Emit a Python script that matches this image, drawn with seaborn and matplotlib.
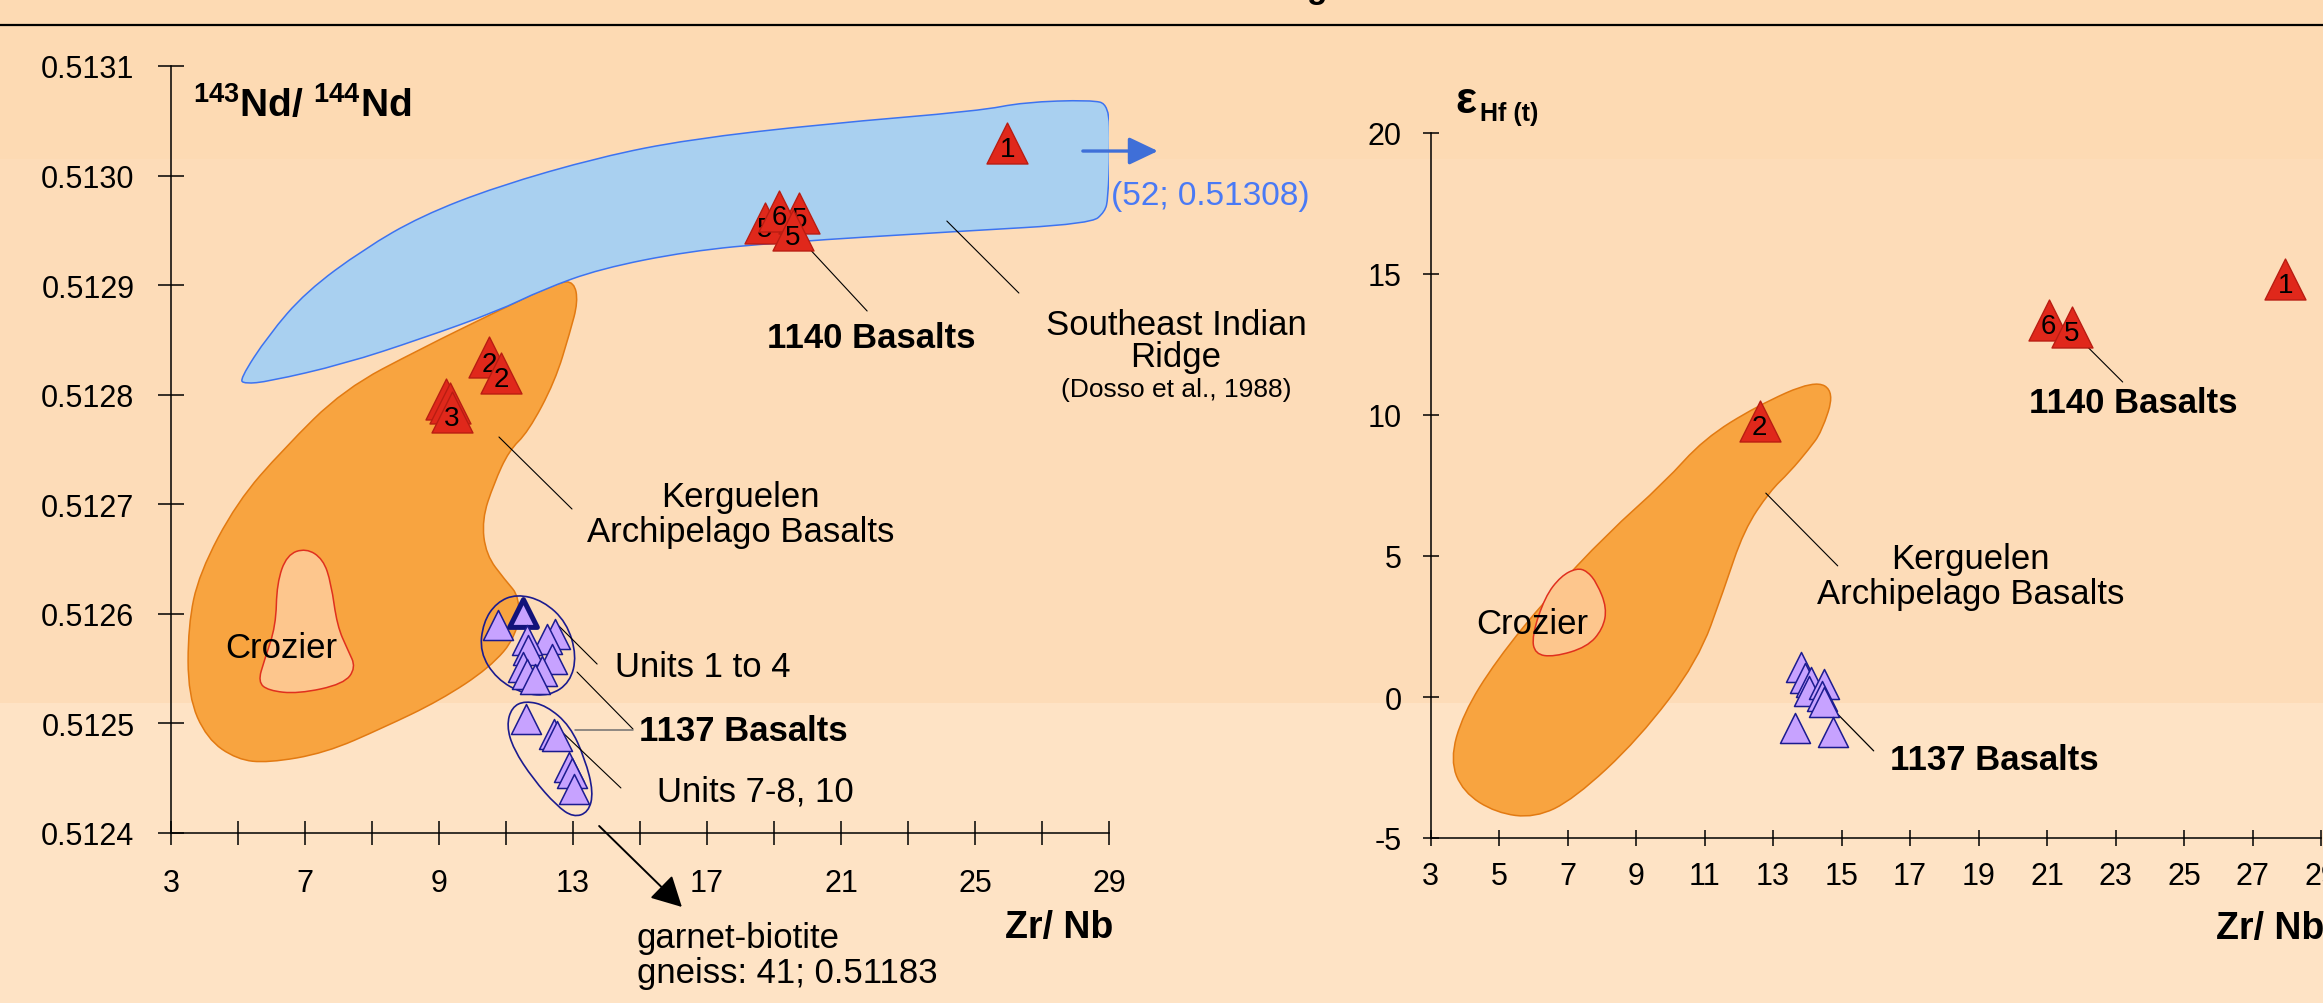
import numpy as np
import matplotlib
matplotlib.use("Agg")
import matplotlib.pyplot as plt
import seaborn as sns
from matplotlib.path import Path
from matplotlib.patches import PathPatch, Rectangle
from matplotlib.lines import Line2D

sns.set_style("white")
plt.rcParams['font.family'] = ['Liberation Sans', 'DejaVu Sans']
plt.rcParams['mathtext.fontset'] = 'custom'
plt.rcParams['mathtext.rm'] = 'Liberation Sans'
plt.rcParams['mathtext.bf'] = 'Liberation Sans:bold'
plt.rcParams['axes.unicode_minus'] = False
plt.rcParams['text.color'] = 'black'
plt.rcParams['xtick.color'] = 'black'
plt.rcParams['ytick.color'] = 'black'

# ---------------- left panel: 143Nd/144Nd vs Zr/Nb ----------------
nd_1140_zr = [27.97, 20.73, 21.75, 21.15, 21.57, 12.49, 12.85, 11.21, 11.33, 11.39]
nd_1140_nd = [0.513030, 0.512957, 0.512966, 0.512968, 0.512950,
              0.512834, 0.512820, 0.512796, 0.512792, 0.512784]
nd_1140_lab = ['1', '5', '5', '6', '5', '2', '2', '', '', '3']

# 1137 basalts, units 1 to 4 (second one is the highlighted sample)
nd_u14_zr = [12.75, 13.52, 14.46, 14.23, 13.62, 13.66, 14.36, 13.52, 13.62, 14.07, 13.87]
nd_u14_nd = [0.5125896, 0.5126006, 0.5125813, 0.5125771, 0.5125763, 0.5125672,
             0.5125588, 0.5125512, 0.5125451, 0.5125474, 0.5125406]
# 1137 basalts, units 7-8, 10
nd_u78_zr = [13.60, 14.44, 14.51, 14.87, 14.97, 15.02]
nd_u78_nd = [0.5125040, 0.5124904, 0.5124881, 0.5124600, 0.5124548, 0.5124399]

seir_zr = [5.05, 5.90, 7.03, 8.76, 10.46, 12.73, 15.81, 18.46, 22.46, 27.12, 28.46, 30.46,
           31.0, 31.03, 30.97, 30.88, 30.46, 26.46, 21.15, 18.46, 15.81, 14.10, 12.73,
           10.46, 8.16, 5.90, 5.20]
seir_nd = [0.512814, 0.512854, 0.512894, 0.512933, 0.512963, 0.512990, 0.513017, 0.513033,
           0.513047, 0.513059, 0.513067, 0.513069, 0.513065, 0.513024, 0.512979, 0.512967,
           0.512956, 0.512949, 0.512939, 0.512931, 0.512915, 0.512896, 0.512876, 0.512851,
           0.512828, 0.512812, 0.512810]

kerg_nd_zr = [15.03, 15.15, 14.91, 14.46, 13.66, 13.09, 12.64, 12.28, 12.40, 12.97, 13.42,
              13.33, 12.52, 11.03, 9.33, 7.60, 5.90, 4.97, 4.07, 3.51, 3.51, 3.84, 4.97,
              6.34, 8.16, 10.46, 12.73, 14.58]
kerg_nd_nd = [0.512903, 0.512885, 0.512857, 0.512812, 0.512766, 0.512749, 0.512719,
              0.512686, 0.512654, 0.512631, 0.512615, 0.512580, 0.512551, 0.512521,
              0.512496, 0.512473, 0.512464, 0.512467, 0.512486, 0.512525, 0.512589,
              0.512637, 0.512702, 0.512750, 0.512805, 0.512842, 0.512876, 0.512903]

croz_nd_zr = [7.03, 6.46, 6.16, 6.13, 5.78, 5.60, 5.90, 6.79, 8.16, 8.52, 8.28, 7.96, 7.78, 7.54]
croz_nd_nd = [0.512660, 0.512654, 0.512628, 0.512589, 0.512557, 0.512538, 0.512530,
              0.512527, 0.512536, 0.512551, 0.512567, 0.512589, 0.512628, 0.512650]

ring14_zr = [13.32, 14.11, 14.81, 15.11, 14.91, 14.31, 13.52, 12.72, 12.22, 12.32, 12.72]
ring14_nd = [0.5126181, 0.5126120, 0.5125923, 0.5125618, 0.5125375, 0.5125253,
             0.5125269, 0.5125405, 0.5125649, 0.5125923, 0.5126105]
ring78_zr = [13.57, 14.21, 14.91, 15.36, 15.61, 15.46, 15.01, 14.51, 13.81, 13.22, 13.02, 13.17]
ring78_nd = [0.5125207, 0.5125162, 0.5124979, 0.5124675, 0.5124371, 0.5124189,
             0.5124143, 0.5124249, 0.5124493, 0.5124767, 0.5124979, 0.5125147]

left_xtick_major = [3, 7, 11, 15, 19, 23, 27, 31]
left_xtick_labels = ['3', '7', '9', '13', '17', '21', '25', '29']
left_xtick_minor = [5, 9, 13, 17, 21, 25, 29]
left_yticks = [0.5124, 0.5125, 0.5126, 0.5127, 0.5128, 0.5129, 0.5130, 0.5131]

# ---------------- right panel: eHf(t) vs Zr/Nb ----------------
hf_1140_zr = [27.96, 21.05, 21.72, 12.61]
hf_1140_hf = [14.82, 13.37, 13.12, 9.79]
hf_1140_lab = ['1', '6', '5', '2']

hf_1137_zr = [13.83, 13.93, 14.12, 14.05, 14.49, 14.44, 14.49, 13.65, 14.76]
hf_1137_hf = [1.07, 0.67, 0.52, 0.21, 0.45, 0.02, -0.19, -1.11, -1.23]

kerg_hf_zr = [14.22, 14.80, 14.42, 14.05, 13.49, 12.91, 12.15, 11.56, 10.81, 9.08, 7.19,
              6.05, 4.91, 3.95, 3.57, 3.95, 4.91, 6.43, 8.15, 9.84, 10.98, 12.53]
kerg_hf_hf = [11.24, 10.82, 9.40, 8.79, 7.98, 7.30, 5.92, 3.79, 1.28, -1.49, -3.62,
              -4.29, -4.11, -3.37, -2.23, -0.60, 1.28, 3.55, 5.78, 7.62, 9.15, 10.32]
croz_hf_zr = [7.27, 6.81, 6.34, 5.96, 6.05, 6.60, 7.57, 8.03, 8.15, 7.86, 7.57]
croz_hf_hf = [4.57, 4.29, 3.55, 2.16, 1.52, 1.42, 1.77, 2.41, 3.16, 4.04, 4.47]

right_xticks = [3, 5, 7, 9, 11, 13, 15, 17, 19, 21, 23, 25, 27, 29]
right_yticks = [-5, 0, 5, 10, 15, 20]

# colours
BG_TOP, BG_MID, BG_LOW = '#fddab3', '#fddcb8', '#fee3c5'
RED, RED_EDGE = '#e0281b', '#b91d12'
LAV, NAVY = '#c7a2ff', '#1b1b8f'
ORANGE, ORANGE_EDGE = '#f8a440', '#e27a12'
CROZ, CROZ_EDGE = '#fdc68d', '#e0301e'
SEIR, SEIR_EDGE = '#a9d0f0', '#3d73f0'


def smooth_patch(xs, ys, **kw):
    # closed quadratic-bezier outline through the midpoints of the traced points
    pts = np.column_stack([xs, ys])
    mids = (pts + np.roll(pts, -1, axis=0)) / 2
    verts = [mids[-1]]
    codes = [Path.MOVETO]
    for p, m in zip(pts, mids):
        verts += [p, m]
        codes += [Path.CURVE3, Path.CURVE3]
    return PathPatch(Path(verts, codes), **kw)


def leader(ax, x0, y0, x1, y1, color='black', lw=0.8):
    ax.add_line(Line2D([x0, x1], [y0, y1], color=color, lw=lw, zorder=4))


def red_points(ax, xs, ys, labs, z0=10):
    for i, (x, y, lab) in enumerate(zip(xs, ys, labs)):
        sns.scatterplot(x=[x], y=[y], ax=ax, marker='^', s=870, color=RED,
                        edgecolor=RED_EDGE, linewidth=1.0, zorder=z0 + 2 * i, legend=False)
        if lab:
            ax.annotate(lab, (x, y), xytext=(0, -4.5), textcoords='offset points',
                        ha='center', va='center', fontsize=20, zorder=z0 + 2 * i + 1)


fig = plt.figure(figsize=(23.23, 10.04), dpi=100)
fig.patch.set_facecolor(BG_MID)
for y0, h, c in [(0, 300 / 1004, BG_LOW), (300 / 1004, 544 / 1004, BG_MID),
                 (844 / 1004, 160 / 1004, BG_TOP)]:
    fig.add_artist(Rectangle((0, y0), 1, h, transform=fig.transFigure,
                             color=c, lw=0, zorder=-10))
fig.add_artist(Line2D([0, 1], [1 - 26 / 1004] * 2, transform=fig.transFigure,
                      color='black', lw=1.6))
fig.text(1317 / 2323, 1 + 2 / 1004, 'g', ha='center', va='baseline',
         fontsize=24, fontweight='bold')

axL = fig.add_axes([171 / 2323, 1 - 834 / 1004, (1109 - 171) / 2323, (834 - 67) / 1004])
axR = fig.add_axes([1430.5 / 2323, 1 - 839 / 1004, (2321 - 1430.5) / 2323, (839 - 134) / 1004])

for ax in (axL, axR):
    ax.set_facecolor('none')
    for s in ('top', 'right'):
        ax.spines[s].set_visible(False)
    for s in ('left', 'bottom'):
        ax.spines[s].set_color('black')
        ax.spines[s].set_linewidth(1.1)

# ---- left panel ----
axL.add_patch(smooth_patch(kerg_nd_zr, kerg_nd_nd, facecolor=ORANGE, edgecolor=ORANGE_EDGE, lw=1.1, zorder=1))
axL.add_patch(smooth_patch(croz_nd_zr, croz_nd_nd, facecolor=CROZ, edgecolor=CROZ_EDGE, lw=1.1, zorder=2))
axL.add_patch(smooth_patch(seir_zr, seir_nd, facecolor=SEIR, edgecolor=SEIR_EDGE, lw=1.1, zorder=2))
axL.add_patch(smooth_patch(ring14_zr, ring14_nd, facecolor='none', edgecolor=NAVY, lw=1.2, zorder=3))
axL.add_patch(smooth_patch(ring78_zr, ring78_nd, facecolor='none', edgecolor=NAVY, lw=1.2, zorder=3))

sns.scatterplot(x=nd_u14_zr[:1], y=nd_u14_nd[:1], ax=axL, marker='^', s=467, color=LAV,
                edgecolor=NAVY, linewidth=1.1, zorder=5, legend=False)
sns.scatterplot(x=nd_u14_zr[1:2], y=nd_u14_nd[1:2], ax=axL, marker='^', s=400, color=LAV,
                edgecolor='#12127a', linewidth=3.6, zorder=6, legend=False)
for i in range(2, len(nd_u14_zr)):
    sns.scatterplot(x=[nd_u14_zr[i]], y=[nd_u14_nd[i]], ax=axL, marker='^', s=467, color=LAV,
                    edgecolor=NAVY, linewidth=1.1, zorder=6 + i, legend=False)
for i in range(len(nd_u78_zr)):
    sns.scatterplot(x=[nd_u78_zr[i]], y=[nd_u78_nd[i]], ax=axL, marker='^', s=467, color=LAV,
                    edgecolor=NAVY, linewidth=1.1, zorder=6 + i, legend=False)

red_points(axL, nd_1140_zr, nd_1140_nd, nd_1140_lab)

leader(axL, 12.79, 0.5127614, 14.97, 0.5126957)
leader(axL, 21.87, 0.5129394, 23.78, 0.5128764)
leader(axL, 26.16, 0.5129585, 28.31, 0.5128928)
leader(axL, 14.58, 0.5125889, 15.72, 0.5125542)
leader(axL, 15.12, 0.5125469, 16.79, 0.5124949)
leader(axL, 15.06, 0.5124940, 16.79, 0.5124940, color='#707070', lw=1.1)
leader(axL, 14.58, 0.5124949, 16.43, 0.5124411)

axL.annotate('', xy=(32.46, 0.5130224), xytext=(30.22, 0.5130224), annotation_clip=False,
             arrowprops=dict(arrowstyle='-|>,head_length=0.59,head_width=0.28', color='#3f6fd8',
                             lw=2.4, mutation_scale=30, shrinkA=0, shrinkB=0), zorder=20)
axL.annotate('', xy=(18.25, 0.5123325), xytext=(15.78, 0.5124064), annotation_clip=False,
             arrowprops=dict(arrowstyle='-|>,head_length=0.62,head_width=0.33', color='black',
                             lw=1.4, mutation_scale=30, shrinkA=0, shrinkB=0), zorder=20)

T = dict(fontsize=25, zorder=30)
axL.text(3.66, 0.5130544, r'$^{\mathbf{143}}$Nd/ $^{\mathbf{144}}$Nd', fontsize=28,
         fontweight='bold', ha='left', va='baseline')
axL.text(6.28, 0.5125602, 'Crozier', ha='center', va='baseline', **T)
axL.text(20.0, 0.5126984, 'Kerguelen', ha='center', va='baseline', **T)
axL.text(20.0, 0.5126665, 'Archipelago Basalts', ha='center', va='baseline', **T)
axL.text(16.25, 0.5125436, 'Units 1 to 4', ha='left', va='baseline', **T)
axL.text(16.97, 0.5124852, '1137 Basalts', ha='left', va='baseline', fontweight='bold', **T)
axL.text(17.51, 0.5124295, 'Units 7-8, 10', ha='left', va='baseline', **T)
axL.text(16.91, 0.5122960, 'garnet-biotite', ha='left', va='baseline', **T)
axL.text(16.91, 0.5122640, 'gneiss: 41; 0.51183', ha='left', va='baseline', **T)
axL.text(23.90, 0.5128436, '1140 Basalts', ha='center', va='baseline', fontweight='bold', **T)
axL.text(33.0, 0.5128554, 'Southeast Indian', ha='center', va='baseline', **T)
axL.text(33.0, 0.5128262, 'Ridge', ha='center', va='baseline', **T)
axL.text(33.0, 0.5127988, '(Dosso et al., 1988)', ha='center', va='baseline', fontsize=19)
axL.text(31.06, 0.5129741, '(52; 0.51308)', ha='left', va='baseline', color='#4a7af5', fontsize=24)
axL.text(31.12, 0.5123051, 'Zr/ Nb', ha='right', va='baseline', fontsize=27, fontweight='bold')

axL.set_xlim(3, 31)
axL.set_ylim(0.5124, 0.5131)
axL.set_xticks(left_xtick_major)
axL.set_xticklabels(left_xtick_labels)
axL.set_xticks(left_xtick_minor, minor=True)
axL.set_yticks(left_yticks)
axL.set_yticklabels([f'{v:.4f}' for v in left_yticks])
axL.tick_params(axis='y', which='both', direction='inout', length=18.7, width=1.1,
                pad=17, labelsize=22, color='black', labelcolor='black', left=True)
axL.tick_params(axis='x', which='both', direction='inout', length=16.6, width=1.1,
                pad=17, labelsize=22, color='black', labelcolor='black', bottom=True)
axL.set_xlabel('')
axL.set_ylabel('')

# ---- right panel ----
axR.add_patch(smooth_patch(kerg_hf_zr, kerg_hf_hf, facecolor=ORANGE, edgecolor=ORANGE_EDGE, lw=1.1, zorder=1))
axR.add_patch(smooth_patch(croz_hf_zr, croz_hf_hf, facecolor=CROZ, edgecolor=CROZ_EDGE, lw=1.1, zorder=2))

for i in range(len(hf_1137_zr)):
    sns.scatterplot(x=[hf_1137_zr[i]], y=[hf_1137_hf[i]], ax=axR, marker='^', s=467, color=LAV,
                    edgecolor=NAVY, linewidth=1.1, zorder=5 + i, legend=False)
red_points(axR, hf_1140_zr, hf_1140_hf, hf_1140_lab)

leader(axR, 12.79, 7.23, 14.89, 4.65)
leader(axR, 14.51, -0.14, 15.94, -1.91, lw=0.9)
leader(axR, 22.04, 12.59, 23.21, 11.17)

axR.text(3.72, 20.74, 'ε', fontsize=32, fontweight='bold', ha='left', va='baseline')
axR.text(4.45, 20.45, 'Hf (t)', fontsize=18, fontweight='bold', ha='left', va='baseline')
axR.text(18.77, 4.56, 'Kerguelen', ha='center', va='baseline', **T)
axR.text(18.77, 3.34, 'Archipelago Basalts', ha='center', va='baseline', **T)
axR.text(5.96, 2.28, 'Crozier', ha='center', va='baseline', **T)
axR.text(16.41, -2.55, '1137 Basalts', ha='left', va='baseline', fontweight='bold', **T)
axR.text(20.46, 10.11, '1140 Basalts', ha='left', va='baseline', fontweight='bold', **T)
axR.text(25.92, -8.55, 'Zr/ Nb', ha='left', va='baseline', fontsize=27, fontweight='bold')

axR.set_xlim(3, 29)
axR.set_ylim(-5, 20)
axR.set_xticks(right_xticks)
axR.set_xticklabels([str(v) for v in right_xticks])
axR.set_yticks(right_yticks)
axR.set_yticklabels([str(v) for v in right_yticks])
axR.tick_params(axis='y', direction='inout', length=11.5, width=1.1, pad=15,
                labelsize=22, color='black', labelcolor='black', left=True)
axR.tick_params(axis='x', direction='inout', length=12.2, width=1.1, pad=10.5,
                labelsize=22, color='black', labelcolor='black', bottom=True)
axR.set_xlabel('')
axR.set_ylabel('')

fig.savefig('out.png', dpi=100, facecolor=fig.get_facecolor())
